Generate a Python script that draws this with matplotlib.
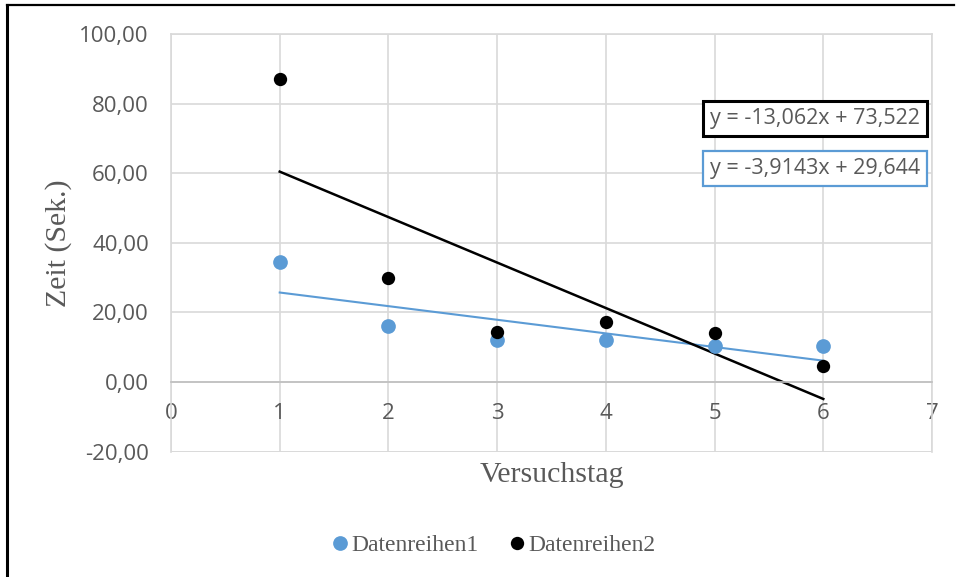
import matplotlib
matplotlib.use("Agg")
import matplotlib.pyplot as plt
from matplotlib.lines import Line2D
from matplotlib.ticker import FuncFormatter, MultipleLocator

# Versuchstage und gemessene Zeiten (Sekunden)
tage = [1, 2, 3, 4, 5, 6]
reihe1 = [34.5, 16.0, 12.0, 12.2, 10.3, 10.5]
reihe2 = [87.0, 29.8, 14.4, 17.2, 14.1, 4.5]

# Lineare Trendlinien (Steigung, Achsenabschnitt)
trend_slope = [-3.9143, -13.062]
trend_icpt = [29.644, 73.522]

namen = ["Datenreihen1", "Datenreihen2"]
farben = ["#5B9BD5", "#000000"]

grid_col = "#D9D9D9"
text_col = "#595959"
tick_font = "Open Sans"
serif_font = "Liberation Serif"

W, H = 957, 577
fig = plt.figure(figsize=(W / 100, H / 100), dpi=100)
fig.patch.set_facecolor("white")

left, right, top, bottom = 171, 932, 34, 451.7
ax = fig.add_axes([left / W, 1 - bottom / H, (right - left) / W, (bottom - top) / H])

ax.set_xlim(0, 7)
ax.set_ylim(-20, 100)
ax.xaxis.set_major_locator(MultipleLocator(1))
ax.yaxis.set_major_locator(MultipleLocator(20))
ax.yaxis.set_major_formatter(FuncFormatter(lambda v, p: f"{v:.2f}".replace(".", ",")))
ax.xaxis.set_major_formatter(FuncFormatter(lambda v, p: f"{int(round(v))}"))

ax.grid(True, color=grid_col, linewidth=1.2, zorder=0)
for s in ["top", "right", "left"]:
    ax.spines[s].set_color(grid_col)
    ax.spines[s].set_linewidth(1.2)
ax.spines["bottom"].set_position(("data", 0))
ax.spines["bottom"].set_color("#BFBFBF")
ax.spines["bottom"].set_linewidth(1.2)
# unterer Rand des Plotbereichs (-20)
ax.axhline(-20, color=grid_col, linewidth=1.2, zorder=0)

ax.tick_params(axis="both", length=0, colors=text_col, labelsize=16)
ax.tick_params(axis="y", pad=16)
ax.tick_params(axis="x", pad=15)
for lab in ax.get_xticklabels() + ax.get_yticklabels():
    lab.set_fontfamily(tick_font)

# Trendlinien von x=1 bis x=6
x0, x1 = tage[0], tage[-1]
lws = [1.5, 1.8]
for m, b, c, lw in zip(trend_slope, trend_icpt, farben, lws):
    ax.plot([x0, x1], [m * x0 + b, m * x1 + b], color=c, linewidth=lw, zorder=2)

# Messpunkte
ax.scatter(tage, reihe1, s=112, color=farben[0], zorder=3, linewidths=0)
ax.scatter(tage, reihe2, s=92, color=farben[1], zorder=4, linewidths=0)

ax.set_xlabel("Versuchstag", fontfamily=serif_font, fontsize=21.5, color=text_col)
ax.set_ylabel("Zeit (Sek.)", fontfamily=serif_font, fontsize=21.5, color=text_col)
ax.xaxis.set_label_coords(0.5, (bottom - 475) / (bottom - top))
ax.xaxis.label.set_verticalalignment("center")
ax.yaxis.set_label_coords((59 - left) / (right - left), 0.5)
ax.yaxis.label.set_verticalalignment("center")

# Gleichungen der Trendlinien
def fmt_eq(m, b):
    s = f"y = {m:.5g}x + {b:.5g}"
    return s.replace(".", ",")

boxes = [(168.5, 0, 1.6), (118.5, 1, 2.2)]
for yc, i, ew in boxes:
    fig.text(815 / W, 1 - yc / H, fmt_eq(trend_slope[i], trend_icpt[i]),
             fontfamily=tick_font, fontsize=15.5, color=text_col,
             ha="center", va="center",
             bbox=dict(boxstyle="square,pad=0.32", facecolor="white",
                       edgecolor=farben[i], linewidth=ew))

# Legende
handles = [Line2D([], [], marker="o", linestyle="none", markersize=ms,
                  markerfacecolor=c, markeredgewidth=0)
           for c, ms in zip(farben, [10.6, 9.6])]
leg = fig.legend(handles, namen, loc="center", ncol=2,
                 bbox_to_anchor=(492 / W, 1 - 545 / H), frameon=False,
                 prop={"family": serif_font, "size": 17},
                 handletextpad=0.0, columnspacing=1.1, handlelength=1.0)
for t in leg.get_texts():
    t.set_color(text_col)

# Rahmen des Diagrammbereichs (links und oben)
fig.add_artist(Line2D([7 / W, 7 / W], [0, 1 - 5 / H], color="black", linewidth=2.2,
                      transform=fig.transFigure))
fig.add_artist(Line2D([7 / W, 954 / W], [1 - 5 / H, 1 - 5 / H], color="black", linewidth=1.6,
                      transform=fig.transFigure))

fig.savefig("out.png", dpi=100, facecolor="white")
